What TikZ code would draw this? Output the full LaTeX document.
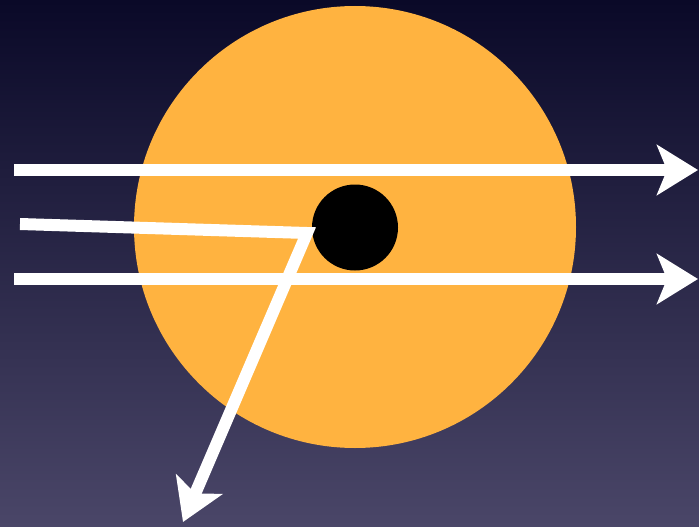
\documentclass[tikz,border=0pt]{standalone}
\usetikzlibrary{arrows.meta}
\definecolor{bgtop}{RGB}{10,9,40}
\definecolor{bgbot}{RGB}{74,70,104}
\definecolor{sun}{RGB}{255,179,64}
\tikzset{
  ray/.style={draw=white, line width=12pt, line join=miter, line cap=butt,
    -{Stealth[length=41pt, width=50pt, inset=10pt]}},
}
\begin{document}
\begin{tikzpicture}[x=1pt,y=-1pt]
\useasboundingbox (0,0) rectangle (699,527);
\shade[top color=bgtop, bottom color=bgbot] (0,0) rectangle (699,527);
\node[circle, fill=sun, minimum size=442pt, inner sep=0pt] (sun) at (355,227) {};
\node[circle, fill=black, minimum size=86pt, inner sep=0pt] (core) at (355,227.5) {};
\coordinate (a1) at (14,170);
\coordinate (a2) at (698,170);
\coordinate (b1) at (14,279);
\coordinate (b2) at (698,279);
\coordinate (c1) at (20,224);
\coordinate (c2) at (307,233);
\coordinate (c3) at (183,522);
\draw[ray] (a1) -- (a2);
\draw[ray] (b1) -- (b2);
\draw[ray] (c1) -- (c2) -- (c3);
\end{tikzpicture}
\end{document}
